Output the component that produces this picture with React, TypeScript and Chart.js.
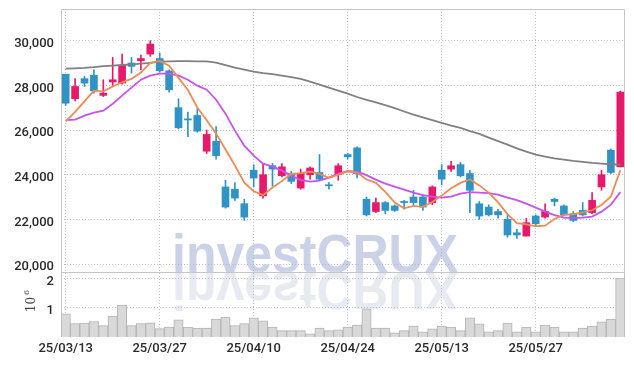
import React, { useEffect, useRef } from 'react';
import { Chart, registerables } from 'chart.js';

Chart.register(...registerables);

const dates = [
  '25/03/13', '25/03/14', '25/03/17', '25/03/18', '25/03/19', '25/03/20', '25/03/21', '25/03/24', '25/03/25', '25/03/26',
  '25/03/27', '25/03/28', '25/03/31', '25/04/01', '25/04/02', '25/04/03', '25/04/04', '25/04/07', '25/04/08', '25/04/09',
  '25/04/10', '25/04/11', '25/04/14', '25/04/15', '25/04/16', '25/04/17', '25/04/18', '25/04/21', '25/04/22', '25/04/23',
  '25/04/24', '25/04/25', '25/04/28', '25/04/29', '25/04/30', '25/05/02', '25/05/07', '25/05/08', '25/05/09', '25/05/12',
  '25/05/13', '25/05/14', '25/05/15', '25/05/16', '25/05/19', '25/05/20', '25/05/21', '25/05/22', '25/05/23', '25/05/26',
  '25/05/27', '25/05/28', '25/05/29', '25/05/30', '25/06/02', '25/06/04', '25/06/05', '25/06/09', '25/06/10', '25/06/11',
];

const openP = [
  28500, 27400, 28300, 28450, 27550, 28150, 28100, 29000, 29100, 29400,
  29200, 28650, 27000, 26500, 26650, 25050, 25500, 23450, 23350, 22700,
  24200, 23050, 24400, 23950, 24050, 23400, 24000, 24100, 23550, 24000,
  24900, 25200, 22900, 22350, 22750, 22600, 22800, 23000, 23000, 22750,
  24200, 24250, 24450, 24050, 22700, 22550, 22350, 22000, 21400, 21250,
  22150, 22100, 22900, 22600, 22250, 22400, 22300, 23450, 25100, 24350,
];
const highP = [
  28500, 28300, 28400, 28700, 28250, 29250, 29400, 29250, 29350, 30000,
  29450, 28700, 27400, 26800, 26950, 26000, 26150, 23750, 23650, 22900,
  24450, 24500, 24500, 24500, 24150, 24250, 24350, 24900, 23650, 24500,
  24950, 25250, 23000, 22950, 22800, 22650, 22850, 23300, 23100, 23500,
  24450, 24600, 24550, 24200, 22800, 22650, 22450, 22200, 21550, 22050,
  22200, 22700, 22950, 22650, 22350, 22750, 23200, 24200, 25150, 27750,
];
const lowP = [
  27100, 27300, 27950, 27650, 27500, 28000, 28050, 28550, 28700, 29300,
  28600, 27700, 26050, 25700, 25900, 24950, 24700, 22500, 22850, 21950,
  23450, 22950, 23500, 23900, 23600, 23350, 23800, 23750, 23350, 23750,
  24700, 23850, 22150, 22300, 22250, 22350, 22450, 22650, 22400, 22650,
  23550, 24150, 23900, 22300, 22000, 22150, 22050, 21200, 21150, 21250,
  21700, 22050, 22600, 22150, 21900, 22150, 22250, 23300, 24050, 24350,
];
const closeP = [
  27200, 27950, 28100, 27750, 27650, 28250, 28900, 28850, 29200, 29850,
  28650, 27800, 26100, 26450, 25950, 25800, 24850, 22550, 22950, 22100,
  23850, 24000, 24250, 24350, 23700, 24050, 24300, 23800, 23500, 24400,
  24800, 24050, 22200, 22750, 22400, 22400, 22750, 22750, 22550, 23450,
  23800, 24400, 23950, 23300, 22150, 22200, 22200, 21300, 21300, 21850,
  21800, 22350, 22800, 22200, 21950, 22200, 22850, 24000, 24100, 27700,
];
const volume = [
  800000, 460000, 480000, 530000, 390000, 720000, 1100000, 390000, 460000, 490000,
  290000, 340000, 590000, 340000, 310000, 310000, 620000, 690000, 390000, 460000,
  660000, 560000, 340000, 220000, 220000, 220000, 110000, 310000, 220000, 250000,
  340000, 410000, 970000, 310000, 310000, 140000, 220000, 380000, 180000, 280000,
  380000, 340000, 220000, 660000, 450000, 180000, 220000, 480000, 180000, 340000,
  180000, 410000, 340000, 180000, 180000, 310000, 380000, 520000, 620000, 2030000,
];
const ma5 = [
  26390, 26810, 27280, 27760, 27734, 27951, 28137, 28286, 28573, 29012,
  29092, 28880, 28336, 27791, 27012, 26436, 25845, 25129, 24418, 23642,
  23257, 23081, 23427, 23711, 24031, 24067, 24132, 24034, 23860, 24006,
  24152, 24096, 23782, 23634, 23228, 22751, 22491, 22599, 22559, 22774,
  23061, 23395, 23630, 23786, 23520, 23198, 22759, 22237, 21830, 21771,
  21690, 21717, 22019, 22204, 22228, 22308, 22407, 22643, 23021, 24200,
];
const ma20 = [
  26441, 26463, 26642, 26777, 26866, 27179, 27538, 27896, 28254, 28433,
  28523, 28523, 28433, 28254, 27985, 27806, 27358, 26732, 25971, 25299,
  24851, 24493, 24359, 24180, 23956, 23755, 23687, 23732, 23866, 24045,
  24157, 24135, 23978, 23777, 23598, 23464, 23329, 23195, 23083, 23016,
  22971, 23016, 23150, 23217, 23195, 23172, 23105, 22971, 22859, 22702,
  22523, 22344, 22187, 22076, 22053, 22076, 22120, 22344, 22657, 23217,
];
const ma60 = [
  28746, 28760, 28782, 28814, 28858, 28881, 28912, 28943, 28970, 29006,
  29060, 29073, 29082, 29082, 29073, 29073, 29015, 28903, 28791, 28702,
  28612, 28545, 28500, 28433, 28366, 28285, 28164, 28030, 27896, 27762,
  27627, 27479, 27345, 27233, 27112, 26978, 26830, 26687, 26562, 26441,
  26315, 26195, 26092, 25948, 25823, 25657, 25501, 25344, 25178, 25031,
  24896, 24806, 24730, 24672, 24614, 24569, 24525, 24493, 24467, 24448,
];

const xTickIdx = [0, 10, 20, 30, 40, 50];
const priceTicks = [20000, 22000, 24000, 26000, 28000, 30000];
const volTicks = [1000000, 2000000];

const UP = '#e8196a';
const DOWN = '#2f93c6';
const GRID = 'rgba(165,172,200,0.75)';
const FRAME = '#c6c6c6';
const TICK_FONT = { family: 'Roboto', size: 13, weight: '500' as any };
const Y_TICK_FONT = { family: 'Roboto', size: 13, weight: '500' as any, lineHeight: '6px' };
const TICK_COLOR = '#2a2a2a';

const watermark = {
  id: 'watermark',
  beforeDraw(chart: any) {
    const { ctx } = chart;
    const yS = chart.scales.y;
    const base = yS.bottom;
    const x0 = 164;
    const targetW = 286;
    const txt = 'investCRUX';
    ctx.save();
    ctx.font = 'bold 53px "Liberation Sans", Arial, sans-serif';
    ctx.textBaseline = 'alphabetic';
    ctx.textAlign = 'left';
    const w = ctx.measureText(txt).width;
    const sx = targetW / w;
    ctx.save();
    ctx.translate(x0, base);
    ctx.scale(sx, 1);
    ctx.fillStyle = '#cbd1e7';
    ctx.fillText(txt, 0, 0);
    ctx.restore();
    ctx.save();
    ctx.translate(x0, base);
    ctx.scale(sx, -1);
    ctx.fillStyle = '#e8eaf1';
    ctx.fillText(txt, 0, 0);
    ctx.restore();
    ctx.restore();
  },
};

const frame = {
  id: 'frame',
  beforeDatasetsDraw(chart: any) {
    const { ctx, chartArea } = chart;
    const yS = chart.scales.y;
    const vS = chart.scales.yVol;
    const l = Math.round(chartArea.left) + 0.5;
    const r = Math.round(chartArea.right) - 0.5;
    const t = Math.round(yS.top) + 0.5;
    const d = Math.round(yS.bottom) + 0.5;
    const b = Math.round(vS.bottom);
    ctx.save();
    ctx.strokeStyle = FRAME;
    ctx.lineWidth = 1;
    ctx.setLineDash([]);
    ctx.beginPath();
    ctx.moveTo(l, b);
    ctx.lineTo(l, t);
    ctx.lineTo(r, t);
    ctx.lineTo(r, b);
    ctx.moveTo(l, d);
    ctx.lineTo(r, d);
    ctx.stroke();
    ctx.restore();
  },
  afterDraw(chart: any) {
    const { ctx } = chart;
    const vS = chart.scales.yVol;
    const cy = (vS.top + vS.bottom) / 2 - 3;
    ctx.save();
    ctx.translate(24, cy);
    ctx.rotate(-Math.PI / 2);
    ctx.fillStyle = '#444';
    ctx.font = '12px "DejaVu Serif", serif';
    ctx.textAlign = 'center';
    ctx.textBaseline = 'middle';
    ctx.fillText('10', -3, 0);
    ctx.font = '8px "DejaVu Serif", serif';
    ctx.fillText('6', 9, -5);
    ctx.restore();
  },
};

const fitY = (s: any) => {
  s.width = 53;
  s.paddingTop = 0;
  s.paddingBottom = 0;
};

export default function App() {
  const ref = useRef<HTMLCanvasElement>(null);
  useEffect(() => {
    const idx = dates.map((_, i) => i);
    const candleColor = (c: any) => (closeP[c.dataIndex] >= openP[c.dataIndex] ? UP : DOWN);
    const chart = new Chart(ref.current as HTMLCanvasElement, {
      type: 'bar',
      data: {
        datasets: [
          {
            type: 'line',
            label: 'MA5',
            data: idx.map((i) => ({ x: i, y: ma5[i] })),
            borderColor: '#ef8a52',
            borderWidth: 1.8,
            pointRadius: 0,
            tension: 0,
            yAxisID: 'y',
            order: 0,
          } as any,
          {
            type: 'line',
            label: 'MA20',
            data: idx.map((i) => ({ x: i, y: ma20[i] })),
            borderColor: '#c752ee',
            borderWidth: 1.8,
            pointRadius: 0,
            tension: 0,
            yAxisID: 'y',
            order: 0,
          } as any,
          {
            type: 'line',
            label: 'MA60',
            data: idx.map((i) => ({ x: i, y: ma60[i] })),
            borderColor: '#808080',
            borderWidth: 1.8,
            pointRadius: 0,
            tension: 0,
            yAxisID: 'y',
            order: 0,
          } as any,
          {
            type: 'bar',
            label: 'body',
            data: idx.map((i) => ({ x: i, y: [openP[i], closeP[i]] })),
            backgroundColor: candleColor,
            borderWidth: 0,
            barThickness: 7,
            minBarLength: 1,
            grouped: false,
            yAxisID: 'y',
            order: 1,
          } as any,
          {
            type: 'bar',
            label: 'wick',
            data: idx.map((i) => ({ x: i, y: [lowP[i], highP[i]] })),
            backgroundColor: candleColor,
            borderWidth: 0,
            barThickness: 1,
            grouped: false,
            yAxisID: 'y',
            order: 2,
          } as any,
          {
            type: 'bar',
            label: 'volume',
            data: idx.map((i) => ({ x: i, y: volume[i] })),
            backgroundColor: '#d9d9d9',
            borderColor: '#b4b4b4',
            borderWidth: 1,
            barPercentage: 1,
            categoryPercentage: 1,
            grouped: false,
            yAxisID: 'yVol',
            order: 3,
          } as any,
        ],
      },
      options: {
        animation: false,
        responsive: false,
        devicePixelRatio: 1,
        layout: { padding: { left: 0, right: 1, top: 1, bottom: 0 } },
        plugins: { legend: { display: false }, tooltip: { enabled: false } },
        scales: {
          x: {
            type: 'linear',
            offset: false,
            min: -0.5,
            max: 59.5,
            afterBuildTicks: (s: any) => {
              s.ticks = xTickIdx.map((v) => ({ value: v }));
            },
            afterFit: (s: any) => {
              s.height = 21;
              s.paddingLeft = 0;
              s.paddingRight = 0;
            },
            ticks: {
              callback: (v: any) => dates[v as number],
              font: TICK_FONT,
              color: TICK_COLOR,
              padding: 4,
              maxRotation: 0,
              autoSkip: false,
            },
            grid: { color: GRID, drawTicks: false, lineWidth: 1, offset: false },
            border: { display: false, dash: [1, 2] },
          },
          yVol: {
            type: 'linear',
            position: 'left',
            stack: 'main',
            stackWeight: 65,
            weight: 1,
            min: 0,
            max: 2241000,
            afterBuildTicks: (s: any) => {
              s.ticks = volTicks.map((v) => ({ value: v }));
            },
            afterFit: fitY,
            ticks: {
              callback: (v: any) => ['', String((v as number) / 1000000)],
              font: Y_TICK_FONT,
              color: TICK_COLOR,
              padding: 7,
            },
            grid: { color: GRID, drawTicks: false },
            border: { display: false, dash: [1, 2] },
          },
          y: {
            type: 'linear',
            position: 'left',
            stack: 'main',
            stackWeight: 263,
            weight: 2,
            min: 19642,
            max: 31419,
            afterBuildTicks: (s: any) => {
              s.ticks = priceTicks.map((v) => ({ value: v }));
            },
            afterFit: fitY,
            ticks: {
              callback: (v: any) => ['', (v as number).toLocaleString('en-US')],
              font: Y_TICK_FONT,
              color: TICK_COLOR,
              padding: 7,
            },
            grid: { color: GRID, drawTicks: false },
            border: { display: false, dash: [1, 2] },
          },
        },
      } as any,
      plugins: [watermark, frame],
    });
    return () => chart.destroy();
  }, []);
  return (
    <div style={{ width: 618, height: 350 }}>
      <canvas ref={ref} width={618} height={350} />
    </div>
  );
}
